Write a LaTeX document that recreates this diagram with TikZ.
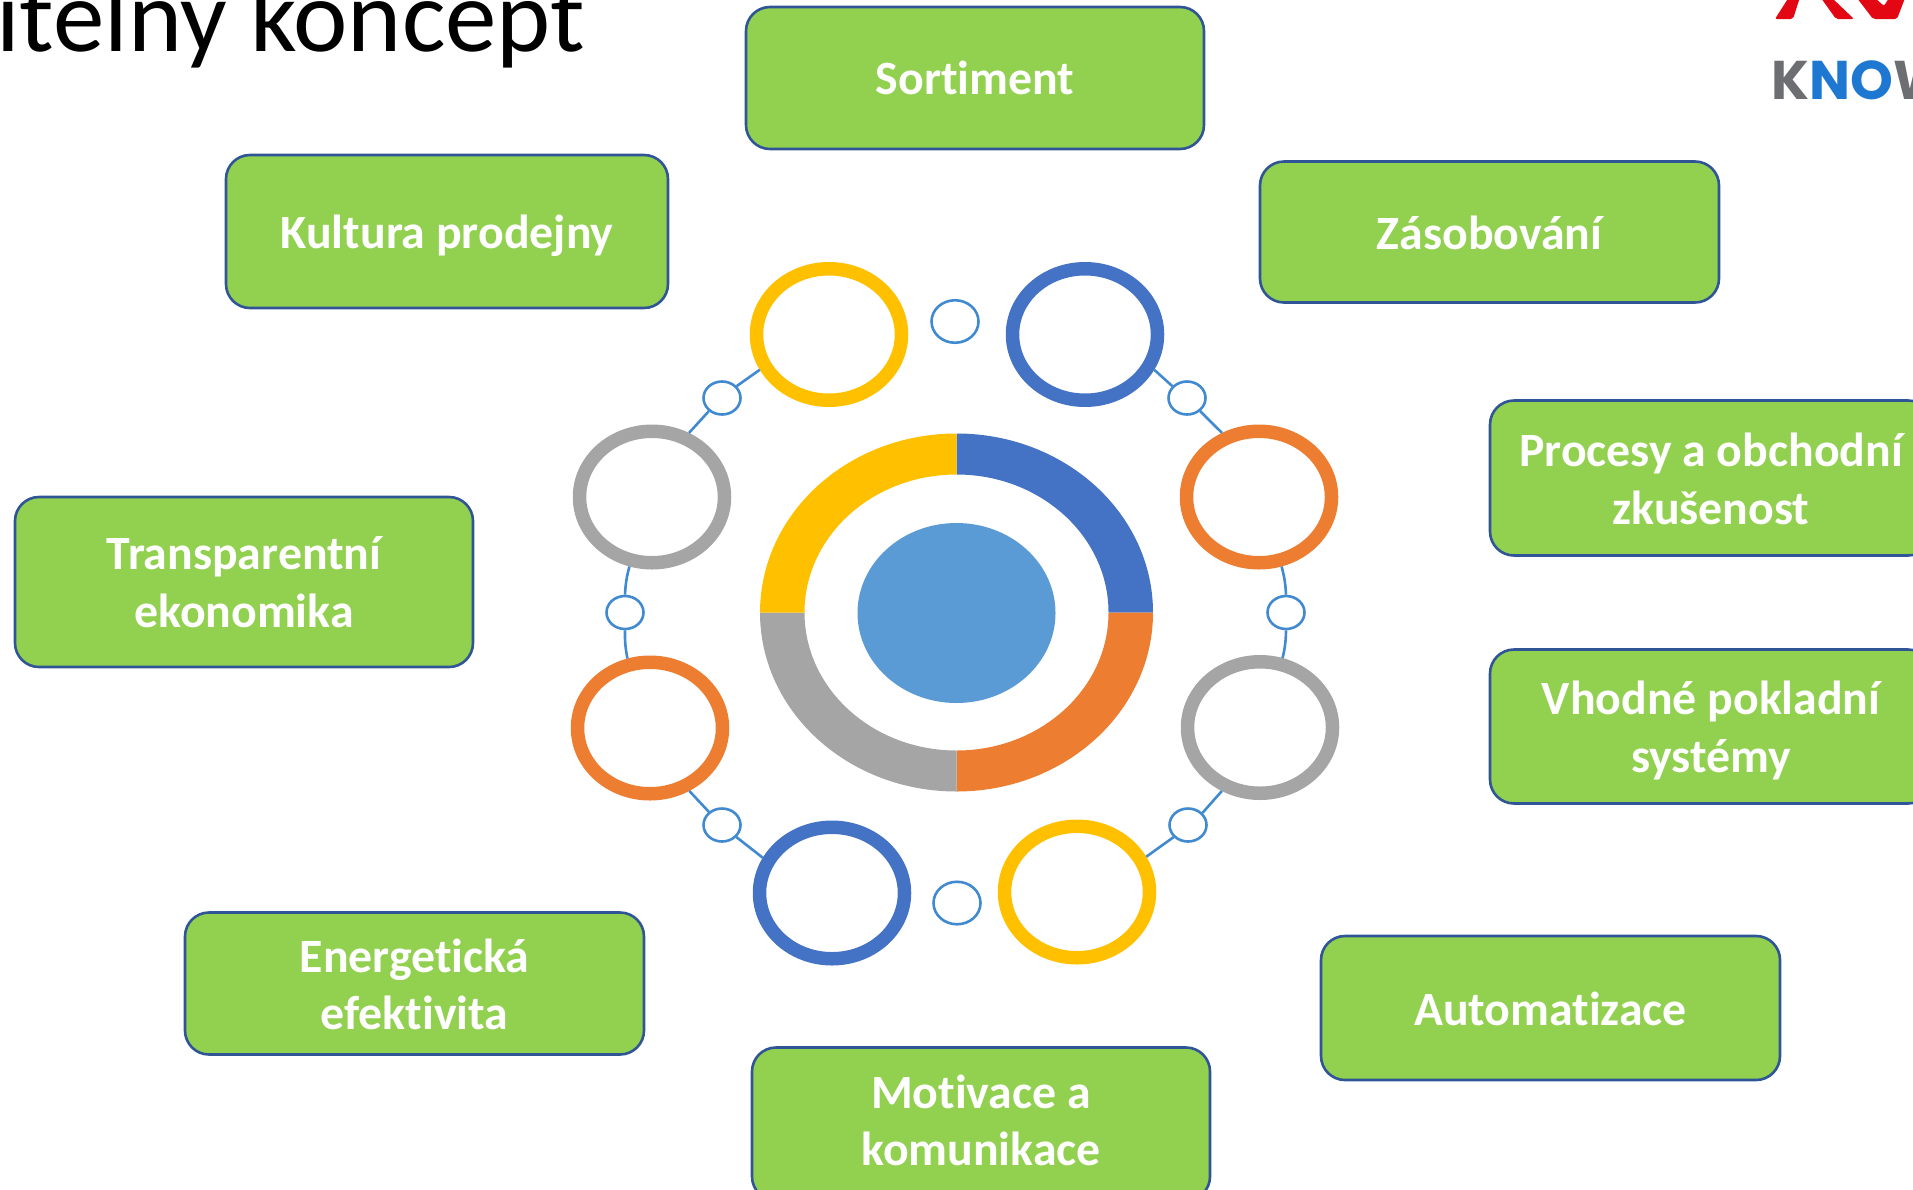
\documentclass[tikz,border=0pt]{standalone}
\usepackage{fontspec}
\setmainfont[Ligatures=NoCommon]{Carlito}
\newfontfamily\logofont{Poppins}
\usetikzlibrary{shapes.geometric}
\definecolor{boxgreen}{HTML}{92D050}
\definecolor{boxedge}{HTML}{2F5597}
\definecolor{ringyellow}{HTML}{FFC000}
\definecolor{ringblue}{HTML}{4472C4}
\definecolor{ringorange}{HTML}{ED7D31}
\definecolor{ringgray}{HTML}{A5A5A5}
\definecolor{hubblue}{HTML}{5B9BD5}
\definecolor{linkblue}{HTML}{418AD0}
\definecolor{logored}{HTML}{E30613}
\definecolor{logoblue}{HTML}{1E78D2}
\definecolor{logogray}{HTML}{6D6E71}
\newcommand\nudge[2]{\raisebox{#1}[\height][\depth]{#2}}
\tikzset{
  x=1pt,y=-1pt,
  tile/.style={draw=boxedge,fill=boxgreen,line width=2.6pt,rounded corners=24pt,inner sep=0pt,
    minimum width=#1,align=center,text=white,font=\fontsize{47.8}{57.5}\selectfont\bfseries},
  bigring/.style={ellipse,draw=#1,line width=13.5pt,minimum width=145pt,minimum height=131.5pt,inner sep=0pt},
  dot/.style={ellipse,draw=linkblue,line width=2.6pt,minimum width=37pt,minimum height=33pt,inner sep=0pt},
  bigdot/.style={ellipse,draw=linkblue,line width=2.6pt,minimum width=47pt,minimum height=42.5pt,inner sep=0pt},
  link/.style={draw=linkblue,line width=2.6pt},
}
\begin{document}
\begin{tikzpicture}
\useasboundingbox (0,0) rectangle (1913,1189);
% title and logo
\node[anchor=base west,inner sep=0pt,font=\fontsize{103}{110}\selectfont] (title) at (-4,51) {itelný koncept};
\fill[logored,rounded corners=2pt] (1775,19) -- (1793,19) -- (1800,-3) -- (1789,-3) -- cycle;
\fill[logored,rounded corners=2pt] (1821,-2) -- (1836,19) -- (1854,19) -- (1832,-2) -- cycle;
\fill[logored,rounded corners=2pt] (1857,-2) -- (1873,19) -- (1897,19) -- (1905,-2) -- (1889,-2) -- (1884,6) -- (1875,-2) -- cycle;
\node[anchor=base west,inner sep=0pt,font=\logofont\bfseries\fontsize{54.5}{60}\selectfont,text=logogray] (logo) at (1771,99) {K\textcolor{logoblue}{NO}W};
% tiles
\node[tile=458pt,minimum height=142pt] (sortiment) at (975,78) {Sortiment};
\node[tile=442pt,minimum height=153pt] (kultura) at (447,231.5) {\nudge{-4pt}{Kultura prodejny}};
\node[tile=459pt,minimum height=141pt] (zasobovani) at (1489.5,232) {\nudge{-1pt}{Zásobování}};
\node[tile=442pt,minimum height=155pt] (procesy) at (1711,478) {\nudge{-1pt}{Procesy a obchodní}\\\nudge{-1pt}{zkušenost}};
\node[tile=442pt,minimum height=154pt] (vhodne) at (1711,726.5) {\nudge{-4pt}{Vhodné pokladní}\\\nudge{-4pt}{systémy}};
\node[tile=458pt,minimum height=170pt] (transparent) at (244,582) {Transparentní\\ekonomika};
\node[tile=459pt,minimum height=142pt] (energeticka) at (414.5,983.5) {\nudge{-1pt}{Energetická}\\\nudge{-1pt}{efektivita}};
\node[tile=459pt,minimum height=144pt] (automatizace) at (1550.5,1008) {\nudge{-1pt}{Automatizace}};
\node[tile=458pt,minimum height=153pt] (motivace) at (981,1124) {\nudge{3.5pt}{Motivace a}\\\nudge{3.5pt}{komunikace}};
% central ring
\fill[ringblue] (956.5,433.5) arc[start angle=90,end angle=0,x radius=196.5pt,y radius=179pt]
  -- (1108.5,612.5) arc[start angle=0,end angle=90,x radius=152pt,y radius=138pt] -- cycle;
\fill[ringorange] (1153,612.5) arc[start angle=0,end angle=-90,x radius=196.5pt,y radius=179pt]
  -- (956.5,750.5) arc[start angle=-90,end angle=0,x radius=152pt,y radius=138pt] -- cycle;
\fill[ringgray] (956.5,791.5) arc[start angle=-90,end angle=-180,x radius=196.5pt,y radius=179pt]
  -- (804.5,612.5) arc[start angle=180,end angle=270,x radius=152pt,y radius=138pt] -- cycle;
\fill[ringyellow] (760,612.5) arc[start angle=180,end angle=90,x radius=196.5pt,y radius=179pt]
  -- (956.5,474.5) arc[start angle=90,end angle=180,x radius=152pt,y radius=138pt] -- cycle;
\node[ellipse,fill=hubblue,minimum width=198pt,minimum height=180pt,inner sep=0pt] (hub) at (956.5,613) {};
% rings
\node[bigring=ringyellow] (r1) at (829,334.5) {};
\node[bigring=ringblue] (r2) at (1085,334.5) {};
\node[bigring=ringorange] (r3) at (1259,497) {};
\node[bigring=ringgray] (r4) at (1260,727.5) {};
\node[bigring=ringyellow] (r5) at (1077,892) {};
\node[bigring=ringblue] (r6) at (832,893) {};
\node[bigring=ringorange] (r7) at (650,728) {};
\node[bigring=ringgray] (r8) at (652,497) {};
% small circles
\node[bigdot] (d1) at (955,321.5) {};
\node[dot] (d2) at (1187,398) {};
\node[dot] (d3) at (1286,612.5) {};
\node[dot] (d4) at (1188,825) {};
\node[bigdot] (d5) at (957,903) {};
\node[dot] (d6) at (722,825) {};
\node[dot] (d7) at (625,612.5) {};
\node[dot] (d8) at (722,398) {};
% connectors
\draw[link] (r1.207) -- (d8.39);
\draw[link] (d8.225) -- (r8.60);
\draw[link] (r8.252) to[bend right=6] (d7.90);
\draw[link] (d7.270) to[bend right=6] (r7.108);
\draw[link] (r7.-58) -- (d6.135);
\draw[link] (d6.320) -- (r6.153);
\draw[link] (r2.-27) -- (d2.141);
\draw[link] (d2.-45) -- (r3.120);
\draw[link] (r3.-72) to[bend left=6] (d3.90);
\draw[link] (d3.270) to[bend left=6] (r4.72);
\draw[link] (r4.239) -- (d4.40);
\draw[link] (d4.220) -- (r5.27);
\end{tikzpicture}
\end{document}
